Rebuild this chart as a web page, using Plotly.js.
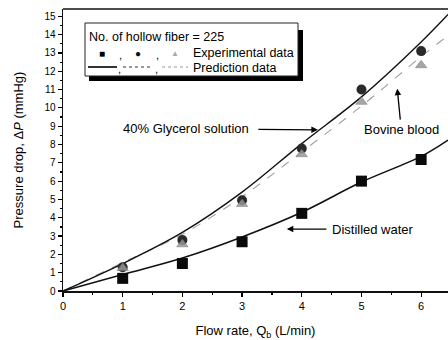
<!DOCTYPE html>
<html>
<head>
<meta charset="utf-8">
<script src="https://cdn.plot.ly/plotly-3.0.1.min.js"></script>
<style>html,body{margin:0;padding:0;background:#fff;}#chart{width:448px;height:340px;}</style>
</head>
<body>
<div id="chart"></div>
<script>
// Experimental data
const flowExp = [1, 2, 3, 4, 5, 6];
const waterExp = [0.69, 1.5, 2.69, 4.24, 6.0, 7.18];
const glycerolExp = [1.3, 2.78, 4.96, 7.78, 11.0, 13.1];
const bloodExp = [1.25, 2.55, 4.75, 7.47, 10.33, 12.33];
// Prediction data
const flowPred = [0, 1, 2, 3, 4, 5, 6, 6.45];
const waterPred = [0, 0.9, 1.8, 2.95, 4.3, 5.95, 7.35, 8.24];
const glycerolPred = [0, 1.5, 3.2, 5.4, 8.05, 10.6, 13.6, 15.1];
const bloodPred = [0, 1.55, 3.1, 5.15, 7.6, 10.1, 12.8, 13.95];
// Axis ticks
const xTicks = [0, 1, 2, 3, 4, 5, 6];
const yTicks = [0,1,2,3,4,5,6,7,8,9,10,11,12,13,14,15];

const FONT = 'Liberation Sans, Arial, sans-serif';
const L = 63, R = 448, T = 9, B = 291;
const px = v => (v - L) / (R - L);
const py = v => (B - v) / (B - T);

const traces = [
  {x: flowPred, y: bloodPred, mode: 'lines', line: {color: '#a0a0a0', width: 1.1, dash: 'dash', shape: 'spline'}, hoverinfo: 'skip'},
  {x: flowPred, y: glycerolPred, mode: 'lines', line: {color: '#111', width: 1.4, shape: 'spline'}, hoverinfo: 'skip'},
  {x: flowPred, y: waterPred, mode: 'lines', line: {color: '#111', width: 1.6, shape: 'spline'}, hoverinfo: 'skip'},
  {x: flowExp, y: glycerolExp, mode: 'markers', marker: {symbol: 'circle', size: 10, color: '#2a2a2a', line: {width: 0}}},
  {x: flowExp, y: bloodExp, mode: 'markers', marker: {symbol: 'triangle-up', size: 10, color: 'rgba(150,150,150,0.85)', line: {width: 0.5, color: '#777'}}},
  {x: flowExp, y: waterExp, mode: 'markers', marker: {symbol: 'square', size: 11, color: '#0a0a0a', line: {width: 0}}}
];

const shapes = [
  // top frame
  {type: 'line', xref: 'paper', yref: 'paper', x0: 0, x1: 1, y0: 1, y1: 1, line: {color: '#111', width: 1.5}},
  // legend shadow and box
  {type: 'rect', xref: 'paper', yref: 'paper', x0: px(89), x1: px(303), y0: py(81), y1: py(30), fillcolor: '#000', line: {width: 0}},
  {type: 'rect', xref: 'paper', yref: 'paper', x0: px(85), x1: px(298), y0: py(76), y1: py(23), fillcolor: '#fff', line: {color: '#222', width: 1}},
  // legend line samples
  {type: 'line', xref: 'paper', yref: 'paper', x0: px(88), x1: px(117), y0: py(67), y1: py(67), line: {color: '#000', width: 1.6}},
  {type: 'line', xref: 'paper', yref: 'paper', x0: px(123), x1: px(152), y0: py(67), y1: py(67), line: {color: '#333', width: 1, dash: 'dot'}},
  {type: 'line', xref: 'paper', yref: 'paper', x0: px(162), x1: px(188), y0: py(67), y1: py(67), line: {color: '#999', width: 1, dash: 'dot'}}
];

function txt(t, x, y, opts) {
  return Object.assign({text: t, xref: 'paper', yref: 'paper', x: px(x), y: py(y), showarrow: false,
    xanchor: 'left', yanchor: 'middle', font: {family: FONT, size: 13, color: '#000'}}, opts || {});
}
function arrowLabel(t, x, y, ax, ay, sso) {
  return {text: t, xref: 'x', yref: 'y', x: x, y: y, ax: ax, ay: ay, axref: 'pixel', ayref: 'pixel',
    showarrow: true, arrowhead: 2, arrowsize: 1, arrowwidth: 1.3, arrowcolor: '#000', startstandoff: sso,
    font: {family: FONT, size: 13, color: '#000'}};
}

const annotations = [
  txt('No. of hollow fiber = 225', 87, 37, {font: {family: FONT, size: 12.5, color: '#000'}}),
  txt('■', 102, 53, {xanchor: 'center', font: {family: FONT, size: 10, color: '#000'}}),
  txt(',', 120, 55, {xanchor: 'center', font: {family: FONT, size: 11, color: '#000'}}),
  txt('●', 138, 53, {xanchor: 'center', font: {family: FONT, size: 10, color: '#111'}}),
  txt(',', 157, 55, {xanchor: 'center', font: {family: FONT, size: 11, color: '#000'}}),
  txt('▲', 175, 53, {xanchor: 'center', font: {family: FONT, size: 8, color: '#aaa'}}),
  txt('Experimental data', 191, 53, {font: {family: FONT, size: 12.5, color: '#000'}}),
  txt(',', 119, 69, {xanchor: 'center', font: {family: FONT, size: 11, color: '#000'}}),
  txt(',', 156, 69, {xanchor: 'center', font: {family: FONT, size: 11, color: '#000'}}),
  txt('Prediction data', 191, 68, {font: {family: FONT, size: 12.5, color: '#000'}}),
  arrowLabel('40% Glycerol solution', 4.27, 8.8, -132, -1, 8),
  arrowLabel('Bovine blood', 5.6, 11.05, 4, 41, 1),
  arrowLabel('Distilled water', 3.75, 3.38, 86, 0, 4)
];

const layout = {
  width: 448, height: 340,
  margin: {l: L, r: 448 - R, t: T, b: 340 - B},
  paper_bgcolor: '#fff', plot_bgcolor: '#fff',
  showlegend: false,
  font: {family: FONT, color: '#000'},
  xaxis: {
    range: [0, 6.45], tickvals: xTicks, ticktext: xTicks.map(String),
    ticks: 'outside', ticklen: 4, tickwidth: 1.2, tickcolor: '#000',
    minor: {dtick: 0.5, tick0: 0, ticks: 'outside', ticklen: 2, tickcolor: '#000'},
    showline: true, linecolor: '#111', linewidth: 1.5, showgrid: false, zeroline: false,
    tickfont: {family: FONT, size: 11, color: '#000'},
    title: {text: 'Flow rate, Q<sub>b</sub> (L/min)', standoff: 17, font: {family: FONT, size: 13, color: '#000'}}
  },
  yaxis: {
    range: [0, 15.4], tickvals: yTicks, ticktext: yTicks.map(String),
    ticks: 'outside', ticklen: 4, tickwidth: 1.2, tickcolor: '#000',
    minor: {dtick: 0.5, tick0: 0, ticks: 'outside', ticklen: 2, tickcolor: '#000'},
    showline: true, linecolor: '#111', linewidth: 1.5, showgrid: false, zeroline: false,
    tickfont: {family: FONT, size: 10, color: '#000'},
    title: {text: 'Pressure drop, Δ<i>P</i> (mmHg)', standoff: 18, font: {family: FONT, size: 13, color: '#000'}}
  },
  shapes: shapes,
  annotations: annotations
};

Plotly.newPlot('chart', traces, layout, {staticPlot: true, displayModeBar: false});
</script>
</body>
</html>
